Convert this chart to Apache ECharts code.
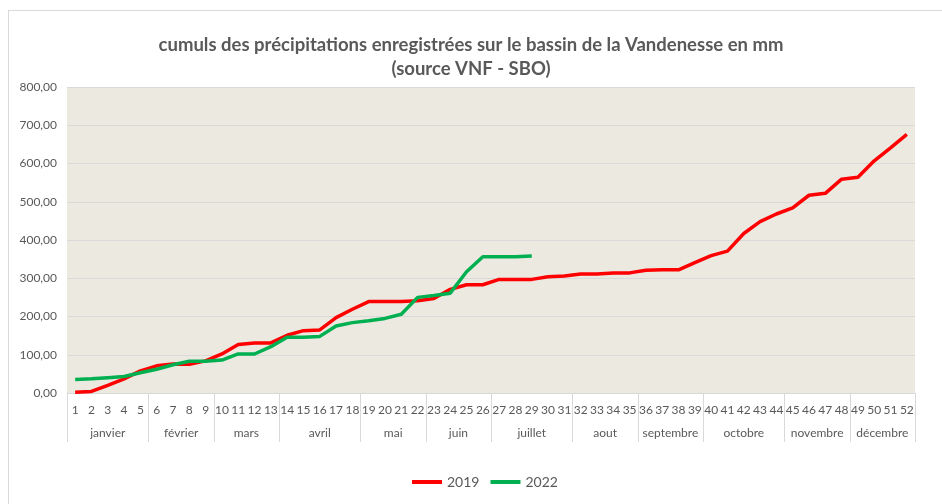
<!DOCTYPE html>
<html>
<head>
<meta charset="utf-8">
<script src="https://cdn.jsdelivr.net/npm/echarts@6/dist/echarts.min.js"></script>
<style>
  html, body { margin: 0; padding: 0; background: #fff; }
  #chart { width: 942px; height: 504px; position: relative; }
  #frame { position: absolute; left: 8px; top: 10px; width: 960px; height: 520px;
           border: 1px solid #d9d9d9; pointer-events: none; }
</style>
</head>
<body>
<div id="chart"></div>
<div id="frame"></div>
<script>
// semaines 1 à 52
var weeks = [];
for (var i = 1; i <= 52; i++) weeks.push(String(i));

// mois et semaine de début de chaque mois
var monthNames = ['janvier', 'février', 'mars', 'avril', 'mai', 'juin', 'juillet',
                  'aout', 'septembre', 'octobre', 'novembre', 'décembre'];
var monthStarts = [1, 6, 10, 14, 19, 23, 27, 32, 36, 40, 45, 49];

// cumuls en mm
var rain2019 = [2, 4, 20, 37, 58, 71, 76, 75, 84, 102, 127, 131, 131, 151, 163, 165, 197, 219,
                239, 239, 239, 241, 247, 271, 283, 283, 297, 297, 297, 304, 306, 311, 311, 314,
                314, 321, 322, 322, 341, 359, 371, 417, 448, 468, 484, 517, 522, 559, 564, 607,
                641, 676];
var rain2022 = [35, 37, 40, 43, 53, 62, 74, 83, 83, 86, 102, 102, 121, 146, 146, 148, 175, 184,
                189, 195, 206, 250, 255, 261, 317, 356, 356, 356, 358];

// centre de chaque mois sur l'axe (en semaines)
var monthCenters = {};
monthStarts.forEach(function (s, k) {
    var end = k < monthStarts.length - 1 ? monthStarts[k + 1] - 1 : 52;
    monthCenters[((s - 1 + end) / 2).toFixed(1)] = monthNames[k];
});

var chart = echarts.init(document.getElementById('chart'));
var txt = '#595959';
var font = 'Lato';

var option = {
    textStyle: { fontFamily: font },
    title: {
        text: 'cumuls des précipitations enregistrées sur le bassin de la Vandenesse en mm\n(source VNF - SBO)',
        left: 'center',
        top: 28,
        padding: [5, 5, 5, 23],
        textStyle: { fontFamily: font, fontSize: 18.5, fontWeight: 'bold', color: txt, lineHeight: 24 }
    },
    color: ['#ff0000', '#00b050'],
    legend: {
        data: ['2019', '2022'],
        bottom: 10,
        left: 407,
        icon: 'rect',
        itemWidth: 30,
        itemHeight: 4,
        itemGap: 11,
        textStyle: { fontFamily: font, fontSize: 14, color: txt }
    },
    grid: {
        left: 67,
        right: 27,
        top: 87,
        bottom: 111,
        show: true,
        backgroundColor: '#ece9e1',
        borderWidth: 0
    },
    xAxis: [
        {
            type: 'category',
            data: weeks,
            position: 'bottom',
            axisLine: { lineStyle: { color: '#d9d9d9' } },
            axisTick: {
                show: true,
                length: 49,
                lineStyle: { color: '#d9d9d9' },
                interval: function (index) {
                    return monthStarts.indexOf(index + 1) !== -1;
                }
            },
            axisLabel: { interval: 0, margin: 11, fontFamily: font, fontSize: 12, color: txt }
        },
        {
            type: 'value',
            min: 0,
            max: 52,
            interval: 0.5,
            position: 'bottom',
            axisLine: { show: false },
            axisTick: { show: false },
            splitLine: { show: false },
            axisLabel: {
                margin: 34,
                fontFamily: font,
                fontSize: 12,
                color: txt,
                formatter: function (v) {
                    return monthCenters[v.toFixed(1)] || '';
                }
            }
        }
    ],
    yAxis: {
        type: 'value',
        min: 0,
        max: 800,
        interval: 100,
        axisLine: { show: false },
        axisTick: { show: false },
        splitLine: { lineStyle: { color: '#d9d9d9' } },
        axisLabel: {
            margin: 10,
            fontFamily: font,
            fontSize: 12,
            color: txt,
            formatter: function (v) { return v.toFixed(2).replace('.', ','); }
        }
    },
    series: [
        {
            name: '2019',
            type: 'line',
            data: rain2019,
            symbol: 'none',
            lineStyle: { width: 3.5 }
        },
        {
            name: '2022',
            type: 'line',
            data: rain2022,
            symbol: 'none',
            lineStyle: { width: 3.5 }
        }
    ]
};
chart.setOption(option);
</script>
</body>
</html>
